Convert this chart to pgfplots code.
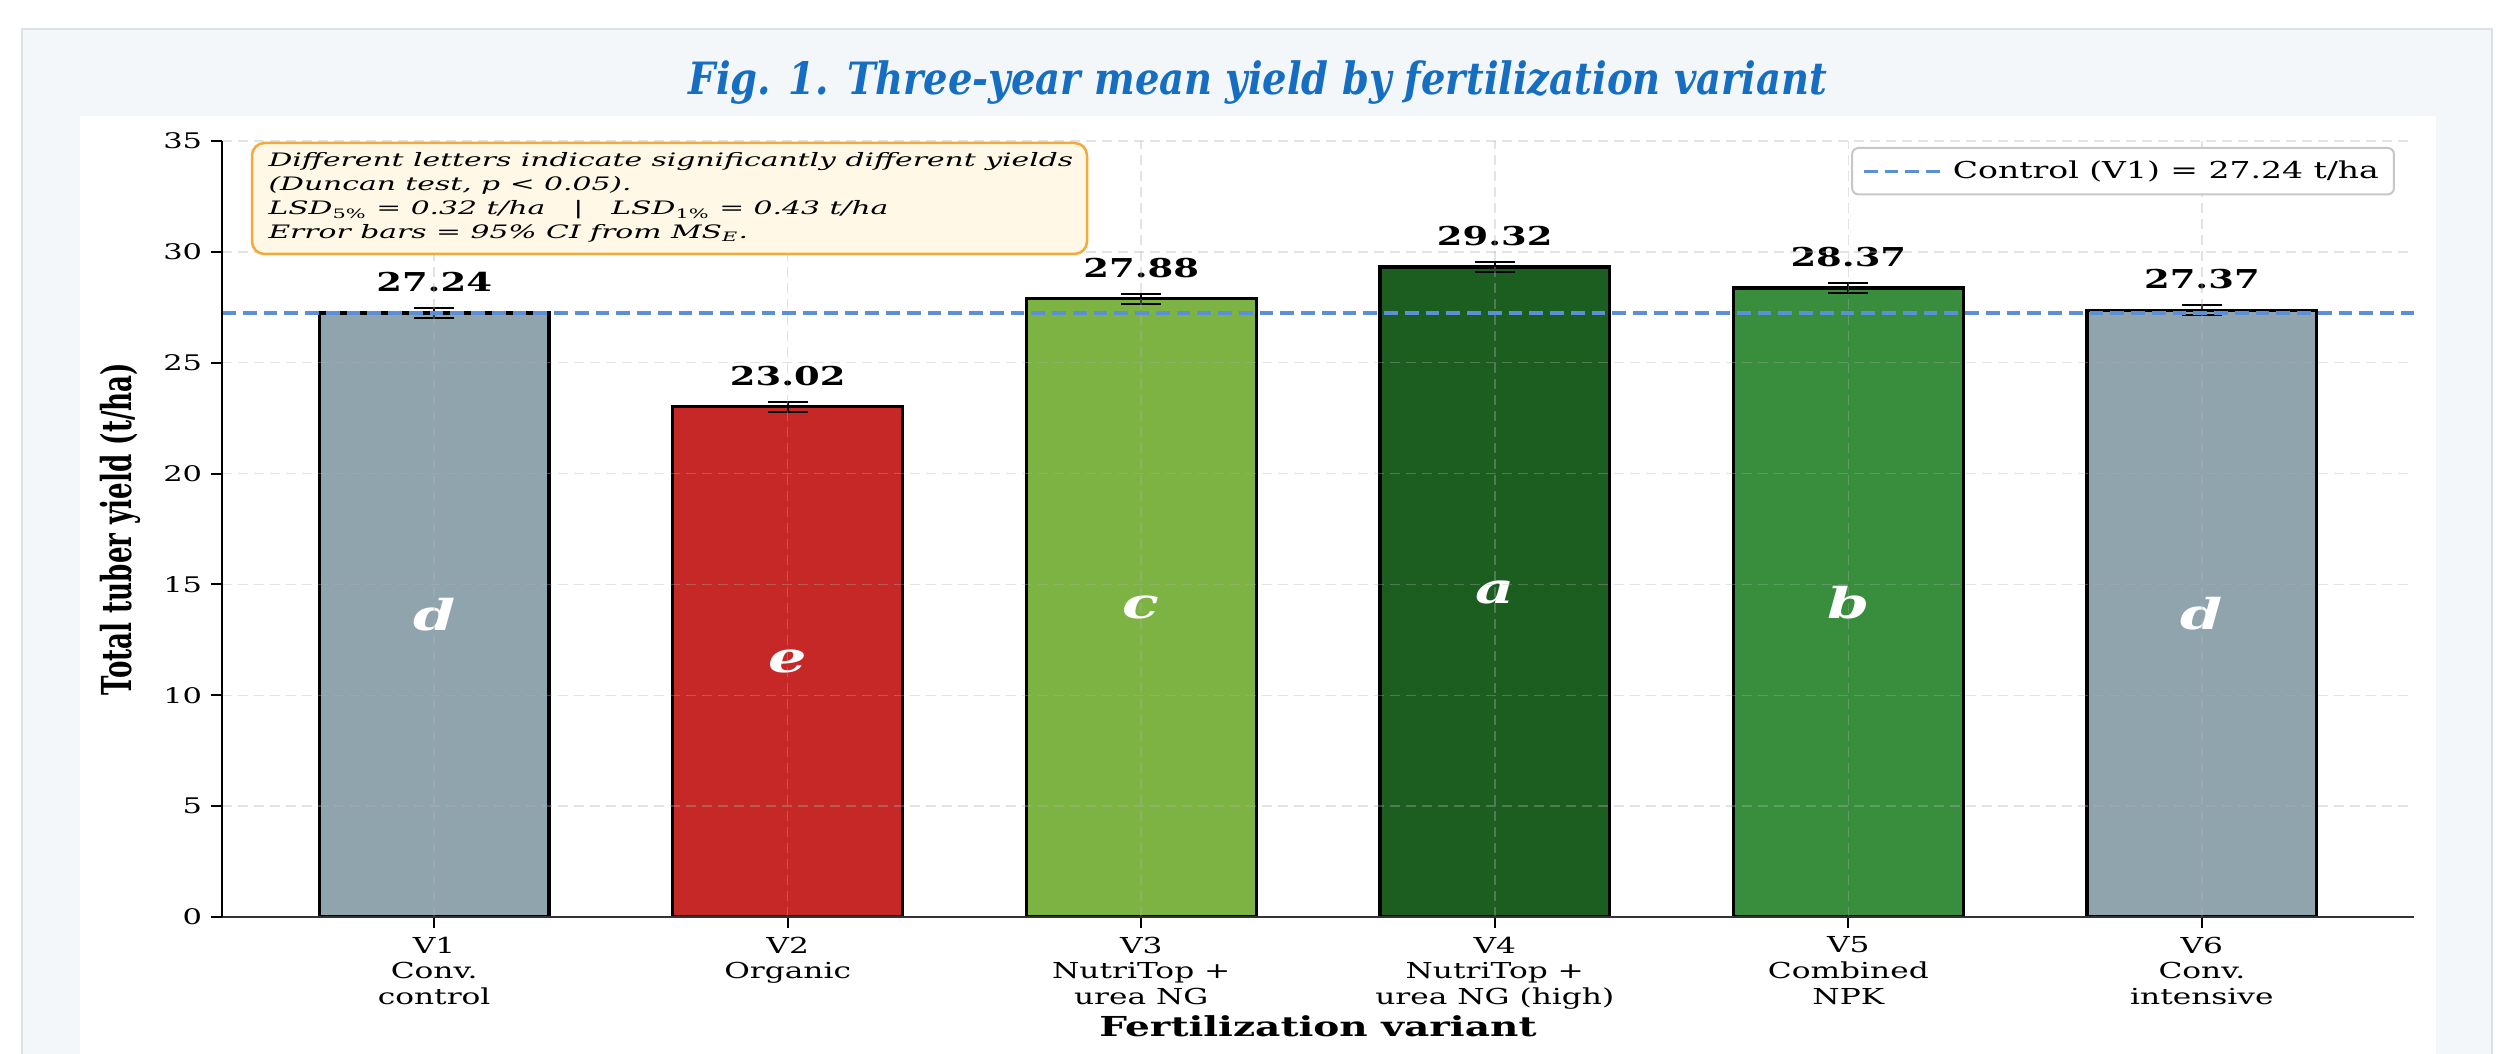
\documentclass[border=0pt]{standalone}
\usepackage{pgfplots}
\pgfplotsset{compat=1.18}
\usepackage{fontspec}
\setmainfont{DejaVu Serif}
\newfontfamily\ssf{DejaVu Serif}[FakeStretch=1.42]
\newfontfamily\aserif{DejaVu Serif}[FakeStretch=1.61]
\newfontfamily\tfont{DejaVu Serif}[FakeStretch=0.865]
\newfontfamily\yfont{DejaVu Serif}[FakeStretch=0.634]
\definecolor{cgray}{HTML}{90A4AE}
\definecolor{cred}{HTML}{C62828}
\definecolor{clgreen}{HTML}{7CB342}
\definecolor{cdgreen}{HTML}{1B5E20}
\definecolor{cmgreen}{HTML}{388E3C}
\definecolor{ctrl}{HTML}{5B8FD8}
\definecolor{titleblue}{HTML}{156EC1}
\definecolor{panelbg}{HTML}{F4F7FA}
\definecolor{panelbd}{HTML}{DCE1E6}
\definecolor{boxfill}{HTML}{FFF8E6}
\definecolor{boxdraw}{HTML}{F5A93A}
\definecolor{gridc}{HTML}{B0B0B0}
\begin{document}
\begin{tikzpicture}
\useasboundingbox (0,0) rectangle (1007.2pt,421.2pt);
\fill[white] (0,0) rectangle (1007.2pt,421.2pt);
\filldraw[fill=panelbg, draw=panelbd, line width=0.8pt] (8.8pt,-5pt) rectangle (996.8pt,409.6pt);
\fill[white] (32pt,-5pt) rectangle (974.4pt,374.8pt);
\node[anchor=base, text=titleblue, font=\tfont\bfseries\itshape\fontsize{17.8}{20}\selectfont] at (503.2pt,383.2pt) {Fig. 1. Three-year mean yield by fertilization variant};
\begin{axis}[
  at={(88.8pt,54.4pt)}, anchor=south west,
  scale only axis, width=876.8pt, height=310.4pt,
  xmin=-0.6, xmax=5.6, ymin=0, ymax=35,
  xtick={0,1,2,3,4,5},
  xticklabels={{V1\\Conv.\\control},{V2\\Organic},{V3\\NutriTop +\\urea NG},{V4\\NutriTop +\\urea NG (high)},{V5\\Combined\\NPK},{V6\\Conv.\\intensive}},
  ytick={0,5,10,15,20,25,30,35},
  axis x line*=bottom, axis y line*=left,
  axis line style={-, line width=0.9pt},
  x axis line style={draw=black!80},
  tick align=outside, major tick length=4.4pt,
  tick style={black, line width=0.8pt},
  /pgf/number format/assume math mode=true,
  yticklabel style={font=\ssf\fontsize{8.6}{10}\selectfont},
  xticklabel style={align=center, font=\ssf\fontsize{8.8}{10.3}\selectfont},
  grid=major,
  major grid style={dash pattern=on 4pt off 2.4pt, draw=gridc, draw opacity=0.35, line width=0.6pt},
  axis on top,
  xlabel={Fertilization variant},
  xlabel style={at={(axis description cs:0.5,-0.1546)}, anchor=base, font=\ssf\bfseries\fontsize{11}{13}\selectfont},
  ylabel={Total tuber yield (t/ha)},
  ylabel style={at={(axis description cs:-0.0465,0.5)}, anchor=center, font=\yfont\bfseries\fontsize{16.5}{18}\selectfont},
  legend style={at={(0.9913,0.9923)}, anchor=north east, draw=black!22, rounded corners=2.5pt, fill=white, line width=0.8pt,
    font=\ssf\fontsize{9.3}{11}\selectfont, inner xsep=4pt, inner ysep=3pt},
  legend cell align=left,
  legend image code/.code={\draw[#1] (0pt,0pt) -- (24pt,0pt); \path (0pt,0pt) -- (33pt,0pt);},
  barstyle/.style={ybar, bar width=0.65, bar shift=0pt, draw=black, line width=1.3pt, forget plot,
    error bars/y dir=both, error bars/y explicit,
    error bars/error bar style={black, line width=0.8pt},
    error bars/error mark options={rotate=90, mark size=8pt, black, line width=0.8pt}},
]
\addplot[barstyle, fill=cgray] coordinates {(0,27.24) +- (0,0.23)};
\addplot[barstyle, fill=cred] coordinates {(1,23.02) +- (0,0.23)};
\addplot[barstyle, fill=clgreen] coordinates {(2,27.88) +- (0,0.23)};
\addplot[barstyle, fill=cdgreen] coordinates {(3,29.32) +- (0,0.23)};
\addplot[barstyle, fill=cmgreen] coordinates {(4,28.37) +- (0,0.23)};
\addplot[barstyle, fill=cgray] coordinates {(5,27.37) +- (0,0.23)};
\addplot[color=ctrl, line width=1.3pt, dash pattern=on 5.5pt off 2.8pt] coordinates {(-0.6,27.24) (5.6,27.24)};
\addlegendentry{Control (V1) = 27.24 t/ha}
% value labels
\begin{scope}[every node/.style={anchor=base, yshift=8.6pt, font=\ssf\bfseries\fontsize{10.4}{12}\selectfont}]
\node at (axis cs:0,27.24) {27.24};
\node at (axis cs:1,23.02) {23.02};
\node at (axis cs:2,27.88) {27.88};
\node at (axis cs:3,29.32) {29.32};
\node at (axis cs:4,28.37) {28.37};
\node at (axis cs:5,27.37) {27.37};
\end{scope}
\begin{scope}[every node/.style={anchor=center, text=white, font=\ssf\bfseries\itshape\fontsize{17}{20}\selectfont}]
\node at (axis cs:0,13.62) {d};
\node at (axis cs:1,11.51) {e};
\node at (axis cs:2,13.94) {c};
\node at (axis cs:3,14.66) {a};
\node at (axis cs:4,14.185) {b};
\node at (axis cs:5,13.685) {d};
\end{scope}
\end{axis}
\draw[rounded corners=5pt, fill=boxfill, draw=boxdraw, line width=1pt] (100.8pt,319.6pt) rectangle (434.8pt,364pt);
\begin{scope}[every node/.style={anchor=base west, inner sep=0pt, font=\aserif\itshape\fontsize{7.4}{9}\selectfont}]
\node at (107.2pt,354.5pt) {Different letters indicate significantly different yields};
\node at (107.2pt,345.0pt) {(Duncan test, p < 0.05).};
\node at (107.2pt,335.4pt) {LSD\textsubscript{\upshape 5\%} = 0.32 t/ha\quad\ |\ \quad LSD\textsubscript{\upshape 1\%} = 0.43 t/ha};
\node at (107.2pt,325.8pt) {Error bars = 95\% CI from MS\textsubscript{E}.};
\end{scope}
\end{tikzpicture}
\end{document}
